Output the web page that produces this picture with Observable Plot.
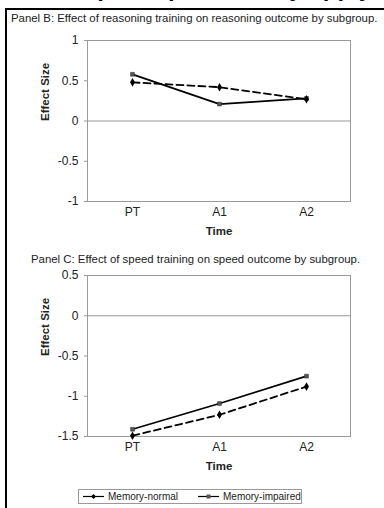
<!DOCTYPE html>
<html>
<head>
<meta charset="utf-8">
<script src="https://cdn.jsdelivr.net/npm/d3@7"></script>
<script src="https://cdn.jsdelivr.net/npm/@observablehq/plot@0.6"></script>
<style>
  html, body { margin:0; padding:0; background:#fff; }
  body { width:384px; height:508px; position:relative; overflow:hidden; font-family: Arial, "Liberation Sans", Helvetica, sans-serif; color:#222; }
  .abs { position:absolute; white-space:nowrap; }
  #frame { position:absolute; left:5px; top:8px; width:420px; height:520px; border-left:2px solid #000; border-top:2px solid #000; }
  .ptitle { font-size:11.4px; }
  #topcut { font-size:24px; font-weight:bold; line-height:24px; color:#000; top:-24px; left:40px; }
  #legend { position:absolute; left:78px; top:489px; width:222px; height:13px; border:1px solid #999; font-size:10px; }
  #legend svg { position:absolute; top:0; }
  #legend span { position:absolute; top:0px; line-height:13px; white-space:nowrap; }
</style>
</head>
<body>
<div id="topcut" class="abs">Group comparisons by applying training</div>
<div id="frame"></div>
<div class="abs ptitle" style="left:11px; top:12px;">Panel B: Effect of reasoning training on reasoning outcome by subgroup.</div>
<div id="panelB" class="abs" style="left:0; top:30px;"></div>
<div class="abs ptitle" style="left:31px; top:253px;">Panel C: Effect of speed training on speed outcome by subgroup.</div>
<div id="panelC" class="abs" style="left:0; top:265px;"></div>
<div id="legend"></div>
<script>
const times = ["PT", "A1", "A2"];
const groups = ["Memory-normal", "Memory-impaired"];
const reasoningNormal = [0.48, 0.42, 0.27];
const reasoningImpaired = [0.58, 0.21, 0.28];
const speedNormal = [-1.49, -1.23, -0.88];
const speedImpaired = [-1.41, -1.09, -0.75];
const yTicksB = [-1, -0.5, 0, 0.5, 1];
const yTicksC = [-1.5, -1, -0.5, 0, 0.5];
const yLabel = "Effect Size";
const xLabel = "Time";

const FONT = 'Arial, "Liberation Sans", Helvetica, sans-serif';

function panel(normal, impaired, domain, ticks) {
  const rows = times.flatMap((t, i) => [
    {time: t, group: groups[0], v: normal[i]},
    {time: t, group: groups[1], v: impaired[i]}
  ]);
  const nRows = rows.filter(d => d.group === groups[0]);
  const iRows = rows.filter(d => d.group === groups[1]);
  return Plot.plot({
    width: 384, height: 211,
    marginLeft: 87, marginRight: 34, marginTop: 10, marginBottom: 40,
    style: {fontFamily: FONT, fontSize: "12px", color: "#222", background: "transparent", overflow: "visible"},
    x: {type: "point", domain: times, padding: 0.5},
    y: {domain, ticks},
    marks: [
      Plot.frame({stroke: "#999", strokeWidth: 1}),
      Plot.ruleY([0], {stroke: "#999", strokeWidth: 1}),
      Plot.axisY({ticks, tickSize: 3, tickPadding: 6, tickFormat: d => String(d), stroke: "#999", fill: "#222", label: null, fontSize: 12}),
      Plot.axisX({tickSize: 0, tickPadding: 6, label: null, fill: "#222", fontSize: 12}),
      Plot.line(iRows, {x: "time", y: "v", stroke: "#000", strokeWidth: 1.8}),
      Plot.line(nRows, {x: "time", y: "v", stroke: "#000", strokeWidth: 1.8, strokeDasharray: "7,4"}),
      Plot.dot(iRows, {x: "time", y: "v", symbol: "square", r: 2.2, fill: "#555", stroke: "#333", strokeWidth: 0.5}),
      Plot.dot(nRows, {x: "time", y: "v", symbol: "diamond", r: 2.6, fill: "#000"}),
      Plot.text([xLabel], {text: d => d, frameAnchor: "bottom", dy: 33, fontWeight: "bold", fontSize: 11.5, fill: "#222"}),
      Plot.text([yLabel], {text: d => d, frameAnchor: "left", dx: -42, rotate: -90, fontWeight: "bold", fontSize: 11.5, fill: "#222"})
    ]
  });
}

document.getElementById("panelB").appendChild(panel(reasoningNormal, reasoningImpaired, [-1, 1], yTicksB));
document.getElementById("panelC").appendChild(panel(speedNormal, speedImpaired, [-1.5, 0.5], yTicksC));

// legend
const lg = document.getElementById("legend");
const items = [
  {label: groups[0], x: 4, tx: 29, sym: "diamond"},
  {label: groups[1], x: 119, tx: 144, sym: "square"}
];
for (const it of items) {
  const s = d3.create("svg").attr("width", 22).attr("height", 13).style("left", it.x + "px");
  s.append("line").attr("x1", 0).attr("x2", 21).attr("y1", 6.5).attr("y2", 6.5).attr("stroke", "#000").attr("stroke-width", 1.2);
  if (it.sym === "diamond") s.append("path").attr("d", "M10.5,4 L13,6.5 L10.5,9 L8,6.5Z").attr("fill", "#000");
  else s.append("rect").attr("x", 8.5).attr("y", 4.5).attr("width", 4).attr("height", 4).attr("fill", "#555");
  lg.appendChild(s.node());
  const sp = document.createElement("span");
  sp.style.left = it.tx + "px";
  sp.textContent = it.label;
  lg.appendChild(sp);
}
</script>
</body>
</html>
